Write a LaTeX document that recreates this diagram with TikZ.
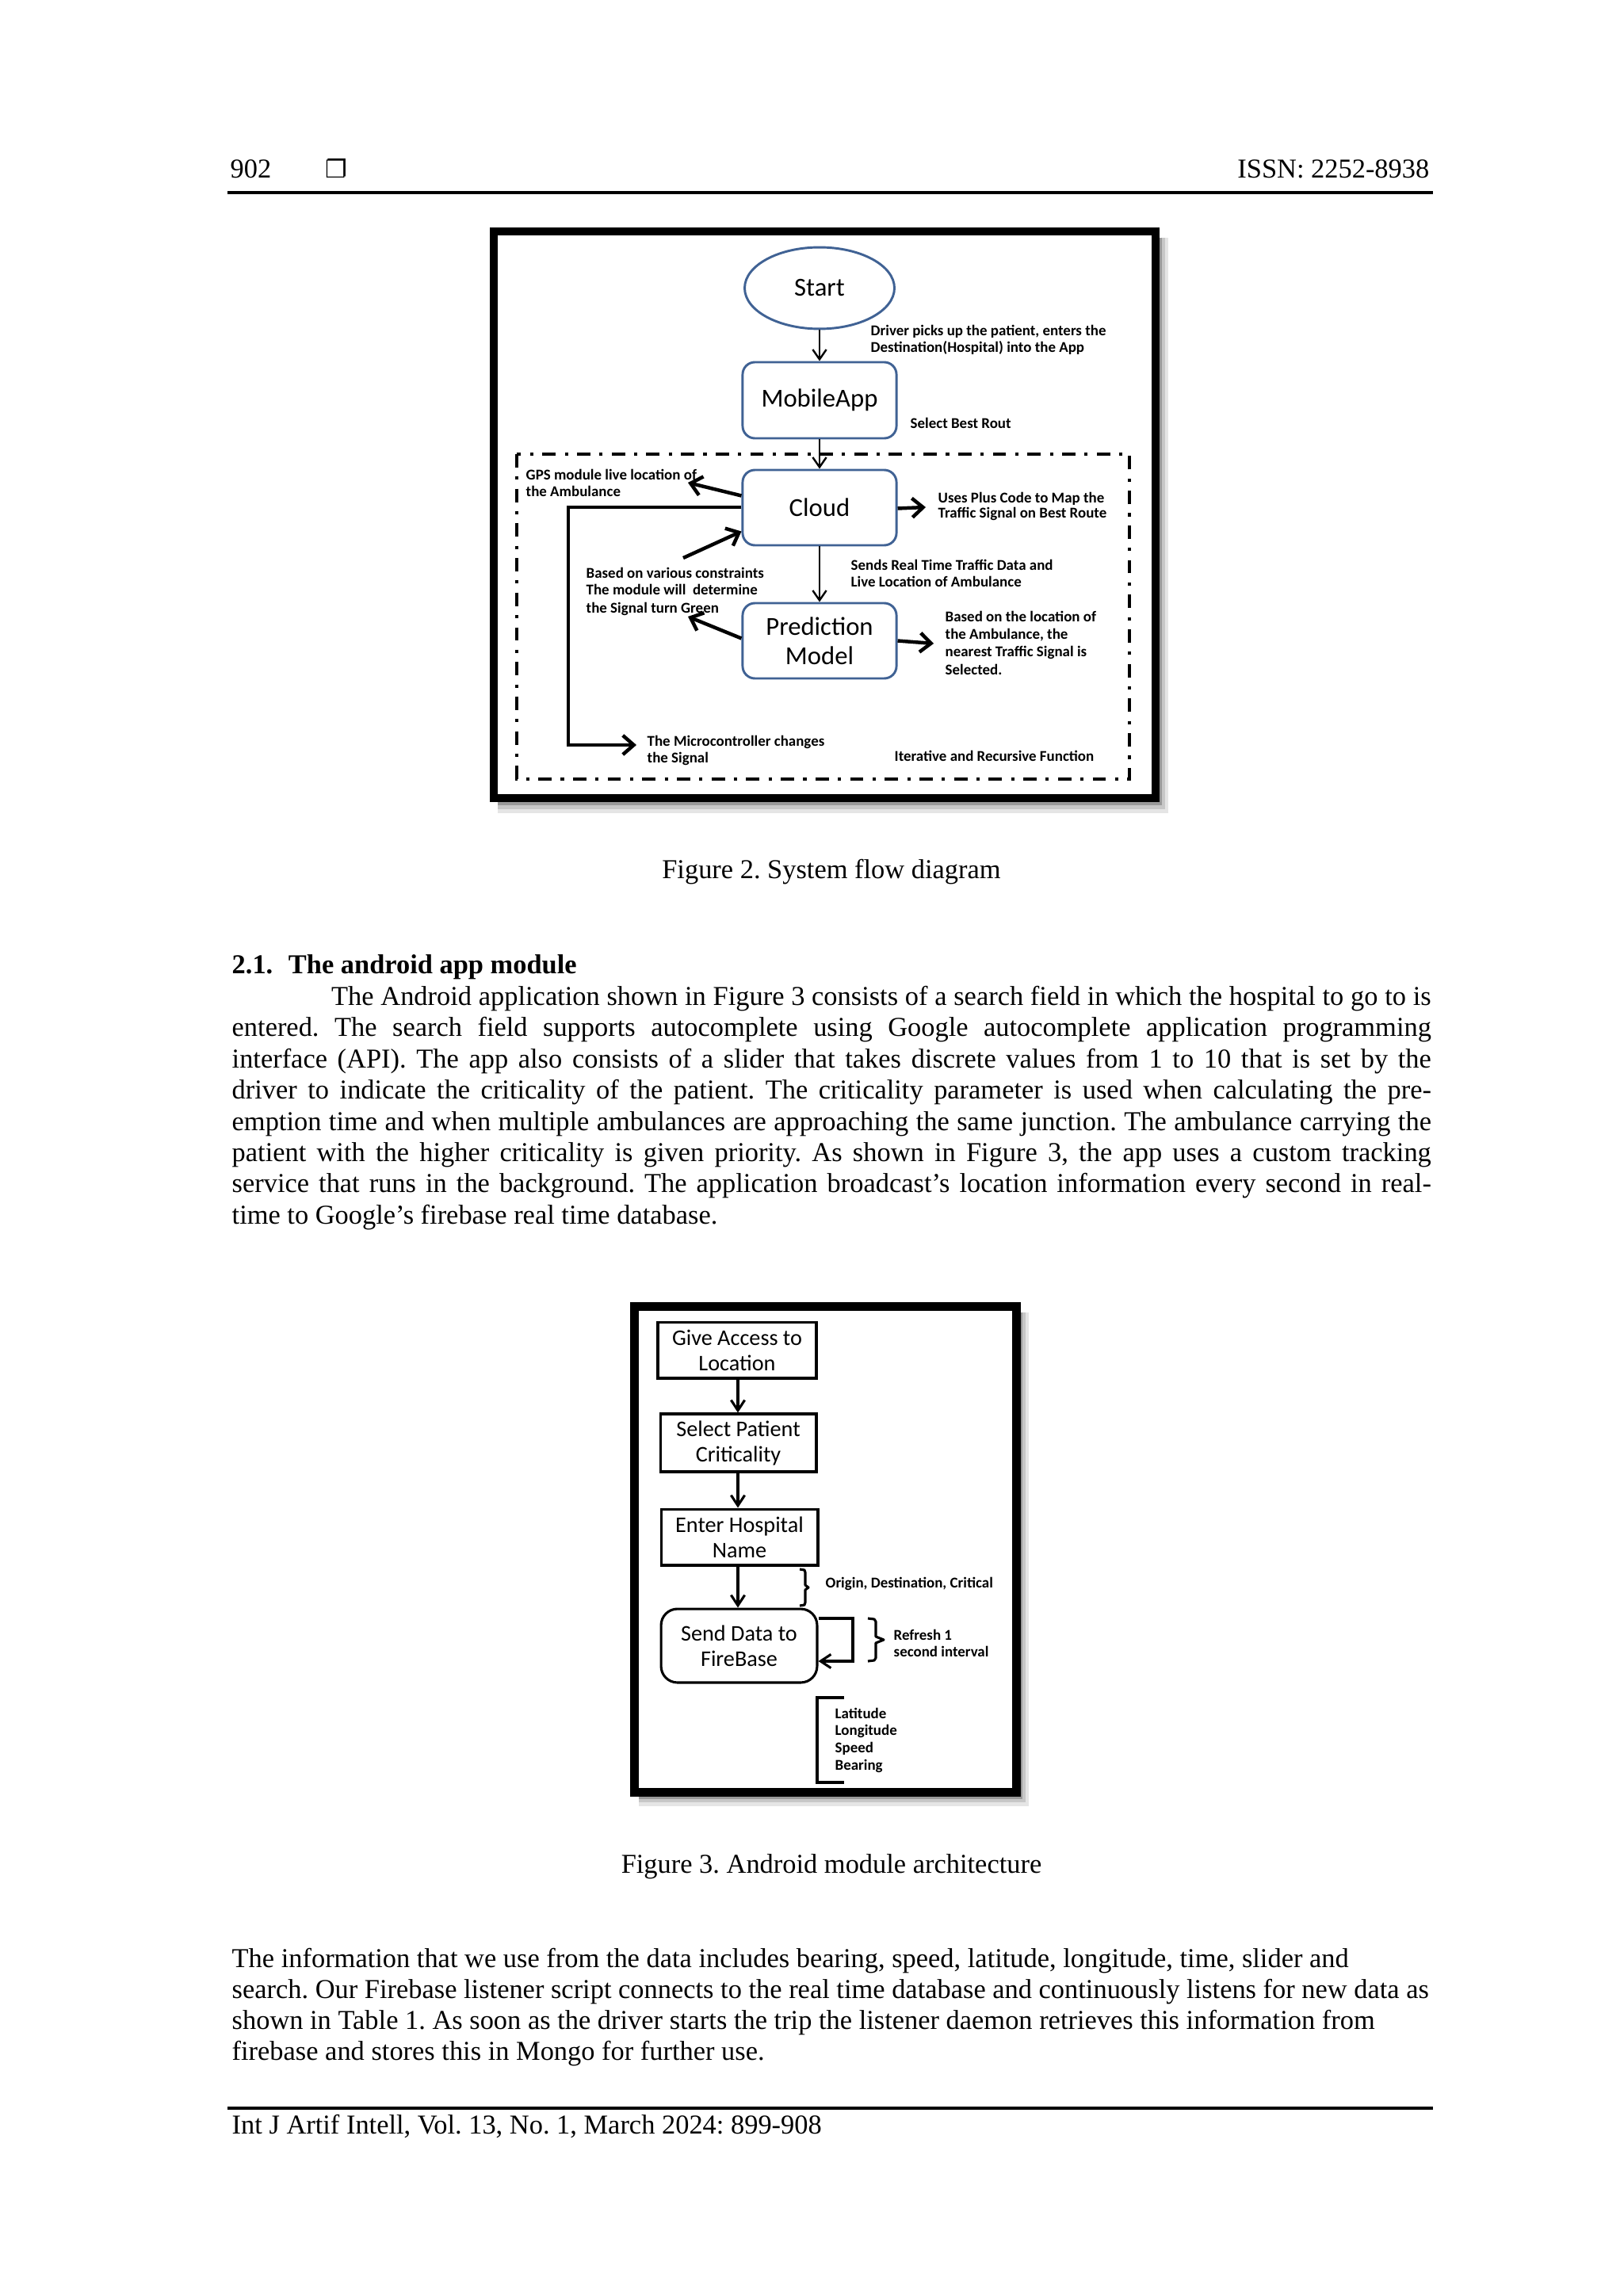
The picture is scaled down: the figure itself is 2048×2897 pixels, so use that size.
\documentclass[tikz,border=0pt]{standalone}
\usepackage{fontspec}
\usepackage{graphicx}
\setmainfont{Liberation Serif}
\newfontfamily\carlito{Carlito}
\newfontfamily\dejavu{DejaVu Sans}
\usetikzlibrary{arrows.meta,shapes.geometric,calc}
\definecolor{boxblue}{RGB}{64,98,148}
\frenchspacing
\tikzset{
  bodytxt/.style={anchor=base west, inner sep=0pt, font=\fontsize{10}{12}\selectfont},
  captxt/.style={anchor=base, inner sep=0pt, font=\fontsize{10}{12}\selectfont},
  lbl/.style={anchor=base west, inner sep=0pt, font=\carlito\bfseries\fontsize{5.5}{6}\selectfont},
  flowbox/.style={draw=boxblue, line width=0.85pt, rounded corners=4.5pt, fill=white,
    minimum width=56.4pt, minimum height=27.6pt, inner sep=0pt,
    font=\carlito\fontsize{9.5}{10.7}\selectfont, align=center},
  thinarr/.style={line width=0.7pt, -{Straight Barb[length=3.6pt,width=5pt]}},
  thickarr/.style={line width=1.3pt, -{Straight Barb[length=4pt,width=7pt]}},
  sqbox/.style={draw=black, line width=0.9pt, fill=white, inner sep=0pt,
    font=\carlito\fontsize{8.2}{9.3}\selectfont, align=center},
  arrthree/.style={line width=0.9pt, -{Straight Barb[length=3.8pt,width=5pt]}},
  dashdotbox/.style={line width=1.2pt, dash pattern=on 4.9pt off 3.3pt on 1.2pt off 3.3pt},
  imgframe/.style={draw=black, fill=white},
  brace/.style={line width=0.9pt, line join=round}
}
\begin{document}
\frenchspacing
\begin{tikzpicture}[x=0.29053pt,y=-0.29053pt]
\useasboundingbox[fill=white] (0,0) rectangle (2048,2897);

% ---------- header ----------
\node[bodytxt] (pgno) at (290,225) {902};
\node[anchor=base west, inner sep=0pt, font=\dejavu\fontsize{9}{9}\selectfont] (sq) at (410,225) {❐};
\node[anchor=base east, inner sep=0pt, font=\fontsize{10}{12}\selectfont] (issn) at (1804,225) {ISSN: 2252-8938};
\coordinate (hrL) at (287,243);
\coordinate (hrR) at (1808,243);
\draw[line width=0.9pt] (hrL) -- (hrR);

% ---------- Figure 2 ----------
\fill[black!10] (628,300) rectangle (1474,1026);
\fill[black!22] (628,300) rectangle (1470,1021);
\fill[black!40] (628,300) rectangle (1466,1016);
\draw[imgframe, line width=2.9pt] (623,292) rectangle (1458,1007);

\draw[dashdotbox] (652,573) rectangle (1425,983);

\node[ellipse, draw=boxblue, line width=0.85pt, fill=white, minimum width=54.9pt, minimum height=29.9pt,
  inner sep=0pt, font=\carlito\fontsize{9.5}{10.7}\selectfont] (start) at (1034,363.5) {Start};
\node[flowbox, minimum height=27.9pt] (mobile) at (1034,505) {MobileApp};
\node[flowbox] (cloud) at (1034,640.5) {Cloud};
\node[flowbox] (pred) at (1034,808.5) {Prediction\\Model};

\draw[thinarr] (start.south) -- (mobile.north);
\draw[thinarr] (mobile.south) -- (cloud.north);
\draw[thinarr] (cloud.south) -- (pred.north);

\coordinate (gpsT) at (868,609);
\coordinate (basedS) at (862,704);
\coordinate (predT) at (868,778);
\coordinate (cloudR) at (1168,640);
\coordinate (predR) at (1178,812);
\coordinate (loopA) at (717,640);
\coordinate (loopB) at (717,940);
\coordinate (loopT) at (803,940);

\draw[thickarr] ($(cloud.west)+(0,-15)$) -- (gpsT);
\draw[thickarr] (basedS) -- ($(cloud.west)+(0,30)$);
\draw[thickarr] ($(pred.west)+(0,-3)$) -- (predT);
\draw[thickarr] ($(cloud.east)+(0,1)$) -- (cloudR);
\draw[thickarr] (pred.east) -- (predR);
\draw[thickarr] (cloud.west |- loopA) -- (loopA) -- (loopB) -- (loopT);

\node[lbl] (drv1) at (1098,424) {Driver picks up the patient, enters the};
\node[lbl] (drv2) at (1098,445) {Destination(Hospital) into the App};
\node[lbl] (sbr) at (1148,541) {Select Best Rout};
\node[lbl] (gps1) at (663,606) {GPS module live location of};
\node[lbl] (gps2) at (663,627) {the Ambulance};
\node[lbl] (ups1) at (1183,634) {Uses Plus Code to Map the};
\node[lbl] (ups2) at (1183,654) {Traffic Signal on Best Route};
\node[lbl] (bov1) at (739,729) {Based on various constraints};
\node[lbl] (bov2) at (739,750) {The module will~ determine};
\node[lbl] (bov3) at (739,773) {the Signal turn Green};
\node[lbl] (snd1) at (1073,719) {Sends Real Time Traffic Data and};
\node[lbl] (snd2) at (1073,740) {Live Location of Ambulance};
\node[lbl] (bol1) at (1192,784) {Based on the location of};
\node[lbl] (bol2) at (1192,806) {the Ambulance, the};
\node[lbl] (bol3) at (1192,828) {nearest Traffic Signal is};
\node[lbl] (bol4) at (1192,851) {Selected.};
\node[lbl] (mc1) at (816,941) {The Microcontroller changes};
\node[lbl] (mc2) at (816,962) {the Signal};
\node[lbl] (itr) at (1128,960) {Iterative and Recursive Function};

\node[captxt] (cap2) at (1049,1108) {Figure 2. System flow diagram};

% ---------- Section text ----------
\node[anchor=base west, inner sep=0pt, font=\bfseries\fontsize{10}{12}\selectfont] (sec) at (292,1228) {2.1.\hspace{5.7pt}The android app module};
\node[bodytxt] (p1) at (417.5,1268) {\makebox[403.1pt][s]{The Android application shown in Figure 3 consists of a search field in which the hospital to go to is}};
\node[bodytxt] (p2) at (292,1307.5) {\makebox[439.6pt][s]{entered. The search field supports autocomplete using Google autocomplete application programming}};
\node[bodytxt] (p3) at (292,1347) {\makebox[439.6pt][s]{interface (API). The app also consists of a slider that takes discrete values from 1 to 10 that is set by the}};
\node[bodytxt] (p4) at (292,1386.5) {\makebox[439.6pt][s]{driver to indicate the criticality of the patient. The criticality parameter is used when calculating the pre-}};
\node[bodytxt] (p5) at (292,1426) {\makebox[439.6pt][s]{emption time and when multiple ambulances are approaching the same junction. The ambulance carrying the}};
\node[bodytxt] (p6) at (292,1465) {\makebox[439.6pt][s]{patient with the higher criticality is given priority. As shown in Figure 3, the app uses a custom tracking}};
\node[bodytxt] (p7) at (292,1504.5) {\makebox[439.6pt][s]{service that runs in the background. The application broadcast’s location information every second in real-}};
\node[bodytxt] (p8) at (292,1544) {time to Google’s firebase real time database.};

% ---------- Figure 3 ----------
\fill[black!10] (806,1656) rectangle (1298,2279);
\fill[black!22] (806,1656) rectangle (1294,2274);
\fill[black!40] (806,1656) rectangle (1290,2270);
\draw[imgframe, line width=3.2pt] (800.5,1648.5) rectangle (1282.5,2261.5);

\node[sqbox, minimum width=58.1pt, minimum height=20.6pt] (b1) at (930,1703.5) {Give Access to\\Location};
\node[sqbox, minimum width=57.2pt, minimum height=21.2pt] (b2) at (931.5,1820.5) {Select Patient\\Criticality};
\node[sqbox, minimum width=57.5pt, minimum height=20.6pt] (b3) at (933,1939.5) {Enter Hospital\\Name};
\node[sqbox, rounded corners=6pt, minimum width=57.2pt, minimum height=27pt] (b4) at (932.5,2076.5) {Send Data to\\FireBase};

\coordinate (ax) at (931,0);
\draw[arrthree] (b1.south -| ax) -- (b2.north -| ax);
\draw[arrthree] (b2.south -| ax) -- (b3.north -| ax);
\draw[arrthree] (b3.south -| ax) -- (b4.north -| ax);

\coordinate (lp1) at (1076,2042);
\coordinate (lp2) at (1076,2096);
\draw[arrthree] (b4.east |- lp1) -- (lp1) -- (lp2) -- (b4.east |- lp2);

\draw[brace] (1009,1980) -- (1015,1981) -- (1016,1984) -- (1016,2000) -- (1020,2003) -- (1016,2006) -- (1016,2022) -- (1015,2025) -- (1009,2026);
\draw[brace] (1095,2042) -- (1103,2043) -- (1105,2046) -- (1105,2065) -- (1115,2069) -- (1105,2073) -- (1105,2092) -- (1103,2095) -- (1095,2096);
\draw[line width=1pt] (1065,2142) -- (1031,2142) -- (1031,2249) -- (1065,2249);

\node[lbl] (odc) at (1041,2003) {Origin, Destination, Critical};
\node[lbl] (rf1) at (1127,2069) {Refresh 1};
\node[lbl] (rf2) at (1127,2090) {second interval};
\node[lbl] (lat) at (1053,2168) {Latitude};
\node[lbl] (lon) at (1053,2189) {Longitude};
\node[lbl] (spd) at (1053,2211) {Speed};
\node[lbl] (brg) at (1053,2233) {Bearing};

\node[captxt] (cap3) at (1049,2363) {Figure 3. Android module architecture};

% ---------- closing paragraph ----------
\node[bodytxt] (q1) at (292,2482) {The information that we use from the data includes bearing, speed, latitude, longitude, time, slider and};
\node[bodytxt] (q2) at (292,2521) {search. Our Firebase listener script connects to the real time database and continuously listens for new data as};
\node[bodytxt] (q3) at (292,2560) {shown in Table 1. As soon as the driver starts the trip the listener daemon retrieves this information from};
\node[bodytxt] (q4) at (292,2599) {firebase and stores this in Mongo for further use.};

% ---------- footer ----------
\coordinate (frL) at (287,2660);
\coordinate (frR) at (1808,2660);
\draw[line width=0.9pt] (frL) -- (frR);
\node[bodytxt] (foot) at (292,2692) {Int J Artif Intell, Vol. 13, No. 1, March 2024: 899-908};
\end{tikzpicture}
\end{document}
